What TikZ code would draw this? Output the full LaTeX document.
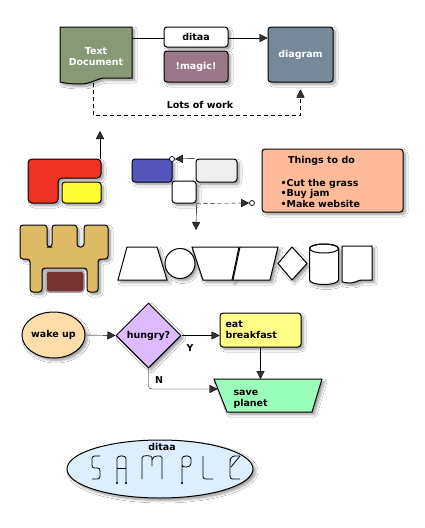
\documentclass[tikz,border=0pt]{standalone}
\usepackage{fontspec}
\setmainfont{DejaVu Sans}
\usetikzlibrary{arrows.meta,backgrounds,calc,positioning,shapes.geometric,shadows.blur}

\definecolor{docgreen}{HTML}{889977}
\definecolor{magicred}{HTML}{997788}
\definecolor{diagblue}{HTML}{778899}
\definecolor{redbox}{HTML}{EE3322}
\definecolor{yelbox}{HTML}{FFFF33}
\definecolor{blubox}{HTML}{5555BB}
\definecolor{greybox}{HTML}{EEEEEE}
\definecolor{todobox}{HTML}{FFBB99}
\definecolor{castle}{HTML}{DDBB66}
\definecolor{door}{HTML}{773333}
\definecolor{wakeup}{HTML}{FFDDAA}
\definecolor{hungry}{HTML}{DDBBFF}
\definecolor{breakfast}{HTML}{FFFF88}
\definecolor{planet}{HTML}{99FFBB}
\definecolor{sample}{HTML}{DDEEFF}

\newcommand\boxfont{\fontsize{9.5}{11}\selectfont\bfseries}

\tikzset{
  dropshade/.style={blur shadow={shadow xshift=2.5pt,shadow yshift=-2.5pt,shadow blur radius=2.5pt,shadow blur steps=6,shadow opacity=40}},
  box/.style={draw,rounded corners=3pt,inner sep=0pt,dropshade,font=\boxfont,align=center},
  txtnode/.style={font=\boxfont,inner sep=0pt,align=left},
  arr/.style={-{Triangle[length=8pt,width=8pt]}},
  dashline/.style={dash pattern=on 4pt off 3pt},
  dotend/.style={circle,draw,fill=white,inner sep=0pt,minimum size=5pt,line width=0.7pt},
  stroke/.style={line width=0.8pt,rounded corners=2.5pt},
}

\begin{document}
\begin{tikzpicture}[x=1pt,y=-1pt,line width=1pt]
\useasboundingbox (0,0) rectangle (424,528);

% top row: text document -> diagram
\draw[fill=docgreen,dropshade] (60,27) -- (132,27) -- (132,78) -- (106,78) .. controls (96,78) and (92,84) .. (80,84) .. controls (70,84) and (64,83) .. (60,82) -- cycle;
\coordinate (doc-e) at (132,38);
\coordinate (doc-s) at (93,83);
\node[txtnode,align=center,text=white] (doctext) at (96,57) {Text\\Document};
\node[box,fill=white,minimum width=64pt,minimum height=20pt] (ditaa) at (196,37) {ditaa};
\node[box,fill=magicred,text=white,minimum width=64pt,minimum height=31pt] (magic) at (196,66.5) {!magic!};
\node[box,fill=diagblue,text=white,minimum width=65pt,minimum height=55pt] (diagram) at (300.5,54.5) {diagram};
\coordinate (lots) at (200,115);
\node[txtnode] (lotstext) at (200,105) {Lots of work};

% coloured blocks
\draw[fill=redbox,dropshade,rounded corners=4pt] (28,159) -- (101,159) -- (101,178) -- (58,178) -- (58,203) -- (28,203) -- cycle;
\coordinate (red-n) at (100,159);
\coordinate (red-up) at (100,131);
\node[box,fill=yelbox,minimum width=39pt,minimum height=21pt] (yellow) at (81.5,192.5) {};
\node[box,fill=blubox,minimum width=40pt,minimum height=23pt] (blue) at (152,170.5) {};
\node[box,fill=greybox,minimum width=41pt,minimum height=23pt] (grey) at (216.5,170.5) {};
\node[box,fill=white,minimum width=24pt,minimum height=22pt] (white) at (184,192) {};
\node[dotend] (d1) at (172,159) {};
\node[dotend] (d2) at (252,203) {};
\coordinate (down-end) at (196,230);

% things to do
\node[box,fill=todobox,minimum width=141pt,minimum height=63pt] (todo) at (332.5,180.5) {};
\node[txtnode] (todo-title) at (321.5,161) {Things to do};
\node[txtnode,anchor=north west,font=\fontsize{9.5}{10.5}\selectfont\bfseries] (todo-list) at (280,178.5) {•Cut the grass\\•Buy jam\\•Make website};

% castle
\draw[fill=castle,dropshade,rounded corners=3pt] (20,225) -- (47,225) -- (47,247) -- (52,247) -- (52,225) -- (77,225) -- (77,247) -- (84,247) -- (84,225) -- (108,225) -- (108,259) -- (98,259) -- (98,292) -- (87,292) -- (87,268) -- (42,268) -- (42,292) -- (30,292) -- (30,259) -- (20,259) -- cycle;
\draw[fill=door,draw=black!35,line width=1.5pt,rounded corners=3pt] (46,271) rectangle (84,292);

% shapes row
\draw[fill=white,dropshade] (127,247) -- (157,247) -- (167,280) -- (118,280) -- cycle;
\draw[fill=white,dropshade] (180,263.5) circle (15);
\draw[fill=white,dropshade] (192,247) -- (239,247) -- (232,280) -- (203,280) -- cycle;
\draw[fill=white,dropshade] (240,247) -- (278,247) -- (270,280) -- (233,280) -- cycle;
\draw[fill=white,dropshade] (292,247) -- (307,263.5) -- (292,280) -- (278,263.5) -- cycle;
\draw[fill=white,dropshade] (309.5,248.5) -- (309.5,280) arc[start angle=180,end angle=0,x radius=14.5,y radius=4.5] -- (338.5,248.5) arc[start angle=0,end angle=-180,x radius=14.5,y radius=4.5] -- cycle;
\draw (324,248.5) ellipse [x radius=14.5,y radius=4.5];
\draw[fill=white,dropshade] (342,246) -- (372,246) -- (372,280) -- (362,280) .. controls (358,280) and (355,283) .. (350,283) .. controls (346,283) and (344,282) .. (342,282) -- cycle;

% flowchart
\node[ellipse,draw,fill=wakeup,dropshade,minimum width=63pt,minimum height=46pt,inner sep=0pt,font=\boxfont] (wake) at (53.5,335) {wake up};
\node[diamond,draw,fill=hungry,dropshade,minimum width=65pt,minimum height=65pt,inner sep=0pt,font=\boxfont] (hungry) at (148.5,335.5) {hungry?};
\node[box,fill=breakfast,minimum width=81pt,minimum height=34pt] (eat) at (260.5,330) {};
\node[txtnode,anchor=north west] (eat-text) at (225,320) {eat\\breakfast};
\draw[fill=planet,dropshade] (214,379) -- (322,379) -- (312,412) -- (227,412) -- cycle;
\coordinate (planet-n) at (260.5,379);
\coordinate (planet-w) at (217.5,389);
\node[txtnode,anchor=north west] (planet-text) at (233,389.5) {save\\planet};
\node[txtnode] (yes) at (190,348) {Y};
\node[txtnode] (no) at (159,380) {N};

% sample
\node[ellipse,draw,fill=sample,dropshade,minimum width=186pt,minimum height=58pt] (sample) at (160,469) {};
\node[txtnode] (sample-title) at (162,447) {ditaa};
\draw[stroke] (100,456) -- (92,456) -- (92,468) -- (100,468) -- (100,479) -- (92,479);
\draw[stroke] (117,483) -- (117,461) .. controls (117,455) and (126,455) .. (126,461) -- (126,483);
\draw[line width=0.8pt] (117,468) -- (126,468);
\draw[stroke] (142,479) -- (142,460) .. controls (142,455) and (152,455) .. (152,460) -- (152,466);
\draw[stroke] (152,460) .. controls (152,455) and (162,455) .. (162,460) -- (162,479);
\draw[stroke] (182,483) -- (182,461) .. controls (182,455) and (191,455) .. (191,461) .. controls (191,468) and (182,468) .. (182,465);
\draw[stroke] (203,456) -- (203,479) -- (213,479);
\draw[stroke] (240,456) -- (232,456) -- (230,460) -- (230,479) -- (240,479);
\draw[line width=0.8pt] (240,456) -- (231,467);
\fill (117,483) circle (1.2) (126,483) circle (1.2) (182,483) circle (1.2);

% connectors
\begin{scope}[on background layer]
\fill[white] (0,0) rectangle (424,528);
\draw[arr] (doc-e) -- (doc-e -| diagram.west);
\draw[dashline,arr,shorten >=7pt] (doc-s) |- (lots) -| (diagram.south);
\draw[arr] (red-n) -- (red-up);
\draw[arr] (grey.north west) -- (d1.east);
\draw[arr] (white.south east) -- (down-end);
\draw[dashline,arr] (white.south east) -- (d2.west);
\draw[arr] (wake.east) -- (hungry.west);
\draw[arr] (hungry.east) -- (hungry.east -| eat.west);
\draw[arr] (eat.south) -- (planet-n);
\draw[arr,rounded corners=3pt] (hungry.south) |- (planet-w);
\end{scope}
\end{tikzpicture}
\end{document}
